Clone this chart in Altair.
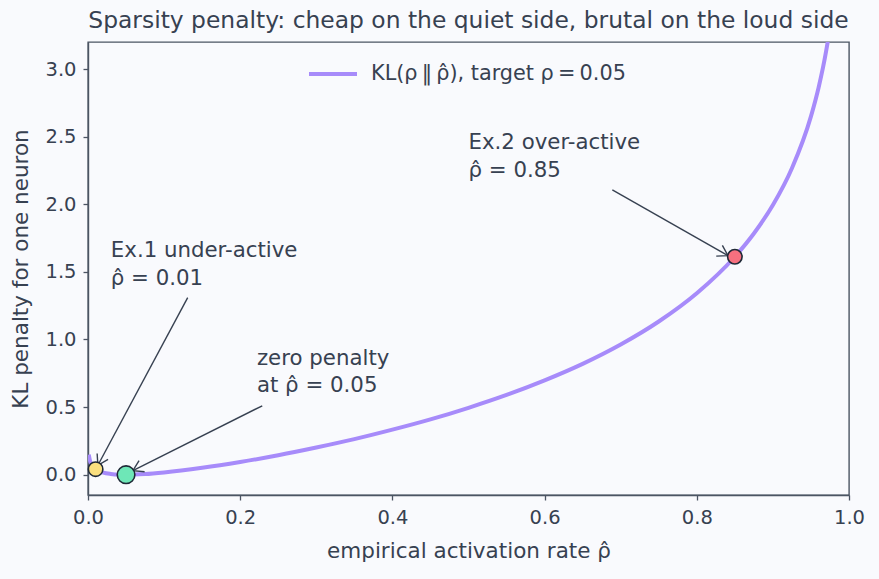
import math
import altair as alt
import pandas as pd

RHO_HAT = "\u03c1\u0302"

# curve values
rho_hat = [0.001, 0.003, 0.005, 0.01, 0.015, 0.02, 0.03, 0.04, 0.05, 0.06, 0.075, 0.1,
           0.15, 0.2, 0.25, 0.3, 0.35, 0.4, 0.45, 0.5, 0.55, 0.6, 0.65, 0.7, 0.75,
           0.8, 0.85, 0.875, 0.9, 0.925, 0.95, 0.96, 0.97, 0.975, 0.98]
kl_penalty = [0.148, 0.095, 0.071, 0.041, 0.026, 0.016, 0.006, 0.001, 0.0, 0.001, 0.005, 0.017,
              0.051, 0.094, 0.144, 0.201, 0.263, 0.333, 0.409, 0.495, 0.590, 0.698, 0.820, 0.963, 1.133,
              1.342, 1.612, 1.784, 1.994, 2.266, 2.650, 2.862, 3.134, 3.307, 3.519]
series_name = "KL(\u03c1\u2009\u2016\u2009" + RHO_HAT + "), target \u03c1\u2009=\u20090.05"

# highlighted neurons
marker_x = [0.01, 0.05, 0.85]
marker_y = [0.041, 0.0, 1.612]
marker_fill = ["#fbe07f", "#6ee7b7", "#f7707f"]
marker_size = [210, 310, 210]

# annotations
ann_line1 = ["Ex.1 under-active", "zero penalty", "Ex.2 over-active"]
ann_line2 = [RHO_HAT + " = 0.01", "at " + RHO_HAT + " = 0.05", RHO_HAT + " = 0.85"]
ann_x = [0.03, 0.222, 0.50]
ann_y1 = [1.61, 0.815, 2.41]
ann_y2 = [1.40, 0.61, 2.20]
arrow_tail_x = [0.131, 0.229, 0.689]
arrow_tail_y = [1.31, 0.51, 2.107]
arrow_head_x = [0.013, 0.059, 0.841]
arrow_head_y = [0.07, 0.03, 1.62]

X_DOMAIN = [0.0, 1.0]
Y_DOMAIN = [-0.15, 3.2]
W, H = 761, 453

TEXT = "#374151"
FRAME = "#4b5563"
BG = "#f9fafd"
FONT = "DejaVu Sans"

curve_df = pd.DataFrame({"x": rho_hat, "y": kl_penalty, "series": series_name})
marker_df = pd.DataFrame({"x": marker_x, "y": marker_y, "fill": marker_fill, "size": marker_size})

px_x = W / (X_DOMAIN[1] - X_DOMAIN[0])
px_y = H / (Y_DOMAIN[1] - Y_DOMAIN[0])
angles = []
for tx, ty, hx, hy in zip(arrow_tail_x, arrow_tail_y, arrow_head_x, arrow_head_y):
    dx = (hx - tx) * px_x
    dy = -(hy - ty) * px_y
    angles.append(math.degrees(math.atan2(dy, dx)) % 360)
arrow_df = pd.DataFrame({"tx": arrow_tail_x, "ty": arrow_tail_y,
                         "hx": arrow_head_x, "hy": arrow_head_y, "angle": angles})
text_df = pd.DataFrame({
    "x": ann_x + ann_x,
    "y": ann_y1 + ann_y2,
    "label": ann_line1 + ann_line2,
})

xs = alt.Scale(domain=X_DOMAIN, nice=False, zero=False, padding=0)
ys = alt.Scale(domain=Y_DOMAIN, nice=False, zero=False, padding=0)

x_axis = alt.Axis(values=[0, 0.2, 0.4, 0.6, 0.8, 1.0], format=".1f", labelFlush=False,
                  title="empirical activation rate  " + RHO_HAT)
y_axis = alt.Axis(values=[0, 0.5, 1.0, 1.5, 2.0, 2.5, 3.0], format=".1f", labelFlush=False,
                  title="KL penalty for one neuron", labelPadding=7, titlePadding=12)

curve = alt.Chart(curve_df).mark_line(strokeWidth=4, clip=True, interpolate="monotone").encode(
    x=alt.X("x:Q", scale=xs, axis=x_axis),
    y=alt.Y("y:Q", scale=ys, axis=y_axis),
    color=alt.Color("series:N", scale=alt.Scale(range=["#a78bfa"]),
                    legend=alt.Legend(title=None, orient="none", legendX=219, legendY=6,
                                      symbolType="stroke", symbolSize=2304, symbolStrokeWidth=4,
                                      labelFontSize=20.8, labelOffset=12, labelColor=TEXT,
                                      labelFont=FONT, labelLimit=0, padding=0)),
)

arrows = alt.Chart(arrow_df).mark_rule(color="#374151", strokeWidth=1.4).encode(
    x=alt.X("tx:Q", scale=xs), y=alt.Y("ty:Q", scale=ys), x2="hx:Q", y2="hy:Q"
)

heads = alt.Chart(arrow_df).mark_point(
    shape="M-1,-0.62 L0,0 L-1,0.62", filled=False, stroke="#374151", strokeWidth=1.4,
    size=400, opacity=1,
).encode(
    x=alt.X("hx:Q", scale=xs), y=alt.Y("hy:Q", scale=ys), angle=alt.Angle("angle:Q", scale=None)
)

markers = alt.Chart(marker_df).mark_circle(opacity=1, stroke="#1f2937", strokeWidth=1.6).encode(
    x=alt.X("x:Q", scale=xs), y=alt.Y("y:Q", scale=ys),
    fill=alt.Fill("fill:N", scale=None),
    size=alt.Size("size:Q", scale=None),
)

texts = alt.Chart(text_df).mark_text(align="left", baseline="alphabetic", fontSize=21.3,
                                     font=FONT, color=TEXT).encode(
    x=alt.X("x:Q", scale=xs), y=alt.Y("y:Q", scale=ys), text="label:N"
)

chart = alt.layer(curve, arrows, heads, markers, texts).properties(
    width=W, height=H,
    title=alt.TitleParams("Sparsity penalty: cheap on the quiet side, brutal on the loud side",
                          fontSize=23.4, fontWeight="normal", color=TEXT, font=FONT, offset=9),
    autosize=alt.AutoSizeParams(type="none"),
    padding={"left": 88, "top": 42, "right": 30, "bottom": 84},
    background=BG,
).configure_view(
    stroke=FRAME, strokeWidth=1.4, fill=BG
).configure_axis(
    grid=False, domainColor=FRAME, domainWidth=1.4, tickColor=FRAME, tickWidth=1.3, tickSize=5,
    labelFontSize=19.5, labelColor=TEXT, labelFont=FONT, labelPadding=8,
    titleFontSize=21.5, titleColor=TEXT, titleFont=FONT, titleFontWeight="normal", titlePadding=14,
)

chart.save("out.html", embed_options={"renderer": "svg", "actions": False})
